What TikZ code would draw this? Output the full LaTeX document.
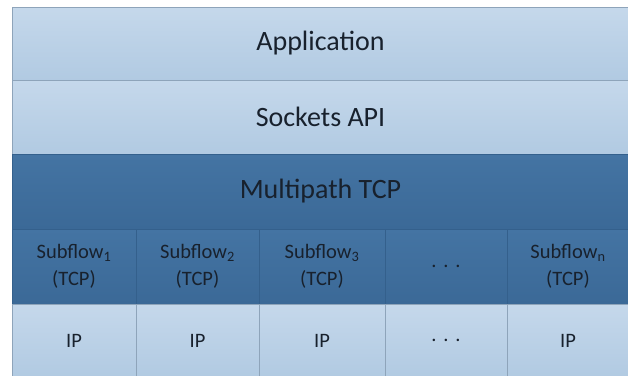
\documentclass[tikz,border=0pt]{standalone}
\usepackage{fontspec}
\setmainfont{Carlito}
\definecolor{lighttop}{HTML}{C5D8EB}
\definecolor{lightbot}{HTML}{B1CAE2}
\definecolor{darktop}{HTML}{4474A3}
\definecolor{darkbot}{HTML}{3B6997}
\definecolor{lightline}{HTML}{8EA4BA}
\definecolor{darkline}{HTML}{34608C}
\definecolor{textdark}{HTML}{18212D}
\newcommand{\sflow}[1]{\begin{tabular}{c} Subflow\textsubscript{#1} \\ (TCP) \end{tabular}}

\begin{document}
\begin{tikzpicture}[x=1pt, y=-1pt,
     layer/.style={draw=lightline, top color=lighttop, bottom color=lightbot,
       minimum width=617pt, inner sep=0pt, text=textdark,
       font=\fontsize{28}{32}\selectfont},
     mptcp/.style={layer, draw=darkline, top color=darktop, bottom color=darkbot},
     cell/.style={draw=lightline, top color=lighttop, bottom color=lightbot,
       inner sep=0pt, text=textdark, font=\fontsize{20.5}{27}\selectfont},
     subcell/.style={cell, draw=darkline, top color=darktop, bottom color=darkbot}]
    \useasboundingbox (0,0) rectangle (628,375);
    \node[layer, minimum height=73pt] (app) at (320.5, 43.5) {Application};
    \node[layer, minimum height=74pt] (sock) at (320.5, 117) {Sockets API};
    \node[mptcp, minimum height=75pt] (mp) at (320.5, 191.5) {Multipath TCP};
    % subflows
    \node[subcell, minimum width=124pt, minimum height=75pt] (sf1) at (74, 266.5) {\sflow{1}};
    \node[subcell, minimum width=123pt, minimum height=75pt] (sf2) at (197.5, 266.5) {\sflow{2}};
    \node[subcell, minimum width=126pt, minimum height=75pt] (sf3) at (322, 266.5) {\sflow{3}};
    \node[subcell, minimum width=122pt, minimum height=75pt] (sfd) at (446, 266.5) {.\,\,.\,\,.};
    \node[subcell, minimum width=122pt, minimum height=75pt] (sfn) at (568, 266.5) {\sflow{n}};
    % ip row
    \node[cell, minimum width=124pt, minimum height=73pt] (ip1) at (74, 340.5) {IP};
    \node[cell, minimum width=123pt, minimum height=73pt] (ip2) at (197.5, 340.5) {IP};
    \node[cell, minimum width=126pt, minimum height=73pt] (ip3) at (322, 340.5) {IP};
    \node[cell, minimum width=122pt, minimum height=73pt] (ipd) at (446, 340.5) {.\,\,.\,\,.};
    \node[cell, minimum width=122pt, minimum height=73pt] (ipn) at (568, 340.5) {IP};
\end{tikzpicture}
\end{document}
